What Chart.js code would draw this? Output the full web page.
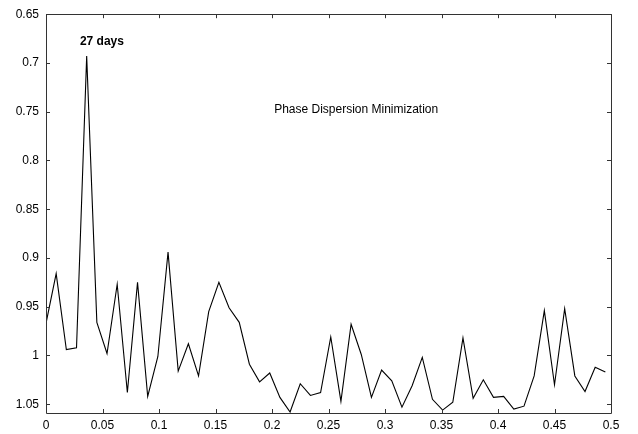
<!DOCTYPE html>
<html>
<head>
<meta charset="utf-8">
<script src="https://cdn.jsdelivr.net/npm/chart.js@4"></script>
<style>
  html, body { margin: 0; padding: 0; background: #fff; }
  #wrap { width: 638px; height: 434px; }
</style>
</head>
<body>
<div id="wrap"><canvas id="chart" width="638" height="434"></canvas></div>
<script>
// frequency step between samples (1/day)
const freqStep = 0.009;
const theta = [
  0.967, 0.916, 0.994, 0.992, 0.693, 0.966, 0.998, 0.927, 1.038, 0.925,
  1.042, 1.001, 0.894, 1.016, 0.988, 1.021, 0.955, 0.925, 0.951, 0.966,
  1.009, 1.027, 1.018, 1.043, 1.058, 1.029, 1.041, 1.038, 0.981, 1.047,
  0.968, 0.999, 1.043, 1.015, 1.026, 1.053, 1.031, 1.002, 1.045, 1.056,
  1.048, 0.982, 1.044, 1.025, 1.043, 1.042, 1.055, 1.052, 1.021, 0.954,
  1.030, 0.952, 1.021, 1.037, 1.012, 1.017
];
const freqs = theta.map((v, i) => +(i * freqStep).toFixed(3));
const xTicks = [0, 0.05, 0.1, 0.15, 0.2, 0.25, 0.3, 0.35, 0.4, 0.45, 0.5];
const yTicks = [0.65, 0.7, 0.75, 0.8, 0.85, 0.9, 0.95, 1, 1.05];
const notes = [
  { text: '27 days', x: 0.0495, y: 0.6785, bold: true },
  { text: 'Phase Dispersion Minimization', x: 0.2745, y: 0.7475, bold: false }
];
const font = '"Liberation Sans", Arial, sans-serif';

const frame = {
  id: 'frame',
  afterDatasetsDraw(chart) {
    const { ctx, chartArea: a, scales: { x, y } } = chart;
    ctx.save();
    ctx.strokeStyle = '#333';
    ctx.lineWidth = 1;
    ctx.beginPath();
    ctx.rect(Math.round(a.left) + 0.5, Math.round(a.top) + 0.5,
             Math.round(a.right - a.left), Math.round(a.bottom - a.top));
    // short inward ticks on all four sides
    xTicks.forEach(v => {
      const px = Math.round(x.getPixelForValue(v)) + 0.5;
      ctx.moveTo(px, a.bottom); ctx.lineTo(px, a.bottom - 4);
      ctx.moveTo(px, a.top); ctx.lineTo(px, a.top + 4);
    });
    yTicks.forEach(v => {
      const py = Math.round(y.getPixelForValue(v)) + 0.5;
      ctx.moveTo(a.left, py); ctx.lineTo(a.left + 4, py);
      ctx.moveTo(a.right, py); ctx.lineTo(a.right - 4, py);
    });
    ctx.stroke();
    ctx.fillStyle = '#000';
    ctx.textAlign = 'center';
    ctx.textBaseline = 'middle';
    notes.forEach(n => {
      ctx.font = (n.bold ? 'bold ' : '') + '12px ' + font;
      ctx.fillText(n.text, x.getPixelForValue(n.x), y.getPixelForValue(n.y));
    });
    ctx.restore();
  }
};

new Chart(document.getElementById('chart').getContext('2d'), {
  type: 'line',
  data: {
    datasets: [{
      data: freqs.map((f, i) => ({ x: f, y: theta[i] })),
      borderColor: '#000',
      borderWidth: 1.1,
      pointRadius: 0,
      tension: 0,
      fill: false
    }]
  },
  options: {
    responsive: false,
    animation: false,
    layout: { padding: { left: 0, right: 27, top: 10, bottom: 0 } },
    plugins: { legend: { display: false }, tooltip: { enabled: false } },
    scales: {
      x: {
        type: 'linear',
        min: 0,
        max: 0.5,
        afterBuildTicks: s => { s.ticks = xTicks.map(v => ({ value: v })); },
        afterFit: s => { s.height = 21; },
        grid: { display: false, drawTicks: false },
        border: { display: false },
        ticks: {
          color: '#000',
          padding: 5,
          maxRotation: 0,
          autoSkip: false,
          font: { family: font, size: 12 },
          callback: v => String(v)
        }
      },
      y: {
        type: 'linear',
        reverse: true,
        min: 0.65,
        max: 1.059,
        afterBuildTicks: s => { s.ticks = yTicks.map(v => ({ value: v })); },
        afterFit: s => { s.width = 46; },
        grid: { display: false, drawTicks: false },
        border: { display: false },
        ticks: {
          color: '#000',
          padding: 7,
          autoSkip: false,
          font: { family: font, size: 12 },
          callback: v => String(v)
        }
      }
    }
  },
  plugins: [frame]
});
</script>
</body>
</html>
